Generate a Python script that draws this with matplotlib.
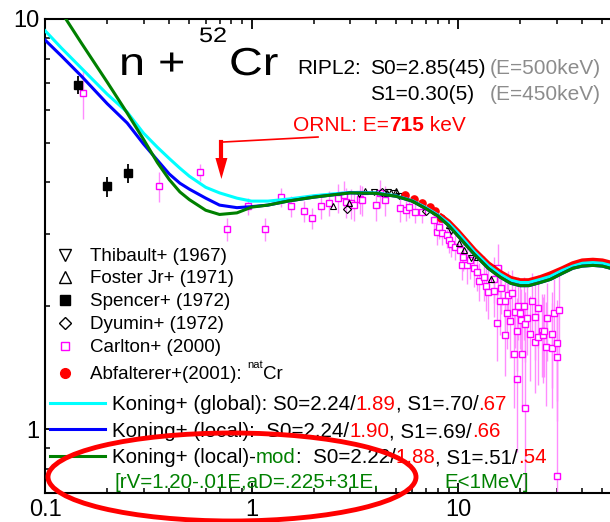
import matplotlib
matplotlib.use("Agg")
import matplotlib.pyplot as plt
from matplotlib.patches import Ellipse, Polygon, PathPatch
from matplotlib.lines import Line2D
from matplotlib.transforms import Affine2D
from matplotlib.textpath import TextPath
from matplotlib.font_manager import FontProperties
from matplotlib.ticker import FixedLocator, FixedFormatter, NullFormatter, LogLocator

plt.rcParams['font.family'] = ['Liberation Sans', 'DejaVu Sans']

# ---------------- data ----------------
# model curves (total cross section, b) vs neutron energy (MeV)
E_CURVE = [0.1, 0.12, 0.15, 0.2, 0.25, 0.3, 0.35, 0.4, 0.45, 0.5, 0.6, 0.7, 0.85,
           1.0, 1.2, 1.5, 2, 2.5, 3, 4, 5, 6, 7, 8, 9, 10, 12, 14, 16, 18, 20,
           22, 25, 28, 32, 36, 40, 45, 50, 60]
SIG_GLOBAL = [9.37, 8.50, 7.59, 6.56, 5.93, 5.27, 4.87, 4.57, 4.33, 4.14, 3.89, 3.77, 3.66,
              3.60, 3.60, 3.64, 3.71, 3.75, 3.78, 3.77, 3.71, 3.61, 3.47, 3.33, 3.18, 3.01, 2.71,
              2.51, 2.39, 2.31, 2.28, 2.28, 2.32, 2.36, 2.44, 2.50, 2.54, 2.55, 2.54, 2.48]
SIG_LOCAL = [8.89, 8.13, 7.26, 6.22, 5.58, 4.96, 4.53, 4.19, 3.98, 3.85, 3.66, 3.52, 3.47,
             3.49, 3.52, 3.60, 3.68, 3.73, 3.77, 3.76, 3.70, 3.60, 3.45, 3.31, 3.14, 2.96, 2.67,
             2.47, 2.35, 2.27, 2.24, 2.24, 2.28, 2.32, 2.40, 2.47, 2.50, 2.51, 2.50, 2.44]
SIG_MOD = [12.0, 10.4, 8.74, 7.02, 5.90, 5.09, 4.47, 4.06, 3.79, 3.63, 3.42, 3.34, 3.37,
           3.48, 3.52, 3.60, 3.68, 3.73, 3.77, 3.76, 3.70, 3.60, 3.45, 3.31, 3.14, 2.96, 2.67,
           2.47, 2.35, 2.27, 2.24, 2.24, 2.28, 2.32, 2.40, 2.47, 2.50, 2.51, 2.50, 2.44]

# experimental data
THIBAULT_E = [3.3, 3.9, 4.6, 4.9, 5.2, 9.3, 11.5]
THIBAULT_S = [3.74, 3.78, 3.78, 3.76, 3.70, 3.05, 2.62]
FOSTER_E = [2.49, 2.95, 3.56, 4.55, 5.0, 8.5, 9.09, 10.06, 10.7, 12.3, 14.5, 14.9]
FOSTER_S = [3.50, 3.56, 3.81, 3.76, 3.80, 3.27, 3.15, 2.84, 2.74, 2.63, 2.33, 2.48]
SPENCER_E = [0.145, 0.199, 0.251]
SPENCER_S = [6.90, 3.91, 4.21]
SPENCER_ERR = [0.35, 0.22, 0.22]
DYUMIN_E = [2.9, 4.3, 7.0]
DYUMIN_S = [3.45, 3.78, 3.40]
CARLTON_E = [0.152, 0.355, 0.56, 0.757, 0.967, 1.156, 1.382, 1.562, 1.786, 1.974,
             2.18, 2.36, 2.61, 2.79, 2.88, 3.02, 3.15, 3.37, 3.41, 3.99, 4.17, 4.41,
             5.21, 5.63, 5.82, 6.16, 6.66, 7.61, 7.87, 8.05, 8.32, 8.80, 9.09, 9.30,
             9.62, 10.17, 10.4, 10.6, 11.0, 11.4, 11.9, 12.3, 12.6, 13.4, 13.7, 14.0,
             14.9, 15.0, 15.5, 15.7, 15.9, 16.1, 16.8, 16.8, 17.2, 17.4, 17.8, 18.2,
             18.6, 18.8, 19.2, 19.2, 19.6, 19.9, 20.1, 20.5, 20.8, 21.0, 21.0, 21.7,
             22.2, 22.7, 23.5, 23.7, 24.3, 24.5, 25.4, 25.9, 26.2, 26.8, 27.1, 28.4,
             28.4, 29.3, 30.0, 30.0, 30.3, 31.0]
CARLTON_S = [6.60, 3.91, 4.24, 3.07, 3.50, 3.07, 3.68, 3.50, 3.40, 3.27,
             3.50, 3.56, 3.66, 3.72, 3.58, 3.56, 3.52, 3.64, 3.62, 3.52, 3.76, 3.62,
             3.46, 3.42, 3.48, 3.38, 3.38, 3.23, 3.02, 3.11, 3.01, 2.97, 2.89, 2.83,
             2.78, 2.73, 2.51, 2.63, 2.51, 2.58, 2.47, 2.42, 2.30, 2.35, 2.24, 2.16,
             2.18, 2.33, 1.82, 2.48, 2.05, 2.21, 2.05, 1.70, 1.92, 2.13, 1.84, 2.15,
             1.53, 1.93, 1.74, 1.33, 2.00, 1.92, 1.85, 1.53, 2.00, 1.81, 1.125, 1.87,
             1.71, 2.05, 1.88, 1.63, 1.68, 1.98, 1.74, 1.70, 1.74, 1.59, 1.87, 1.58,
             1.71, 1.92, 1.62, 1.50, 0.768, 1.95]
CARLTON_ERR = [0.9, 0.32, 0.2, 0.2, 0.17, 0.2, 0.19, 0.2, 0.2, 0.2,
               0.25, 0.25, 0.3, 0.3, 0.3, 0.3, 0.3, 0.3, 0.3, 0.3, 0.3, 0.3,
               0.25, 0.2, 0.2, 0.2, 0.2, 0.2, 0.2, 0.2, 0.2, 0.2, 0.2, 0.2,
               0.2, 0.2, 0.2, 0.2, 0.25, 0.25, 0.25, 0.25, 0.25, 0.3, 0.3, 0.3,
               0.3, 0.3, 0.35, 0.35, 0.35, 0.3, 0.35, 0.35, 0.35, 0.3, 0.35, 0.3,
               0.4, 0.35, 0.35, 0.45, 0.35, 0.35, 0.35, 0.4, 0.35, 0.35, 0.9, 0.35,
               0.4, 0.35, 0.4, 0.4, 0.4, 0.4, 0.4, 0.4, 0.4, 0.45, 0.4, 0.45,
               0.45, 0.4, 0.45, 0.45, 1.2, 0.45]
ABF_E = [5.56, 6.15, 6.72, 7.28, 7.78, 8.3]
ABF_S = [3.72, 3.64, 3.56, 3.48, 3.40, 3.27]
ABF_DENSE_E = [8.3, 9, 10, 12, 14, 16, 18, 20, 22, 25, 28, 32, 36, 40, 45, 50, 60]
ABF_DENSE_S = [3.30, 3.20, 3.03, 2.73, 2.53, 2.41, 2.33, 2.30, 2.30, 2.34, 2.39,
               2.46, 2.53, 2.57, 2.58, 2.57, 2.51]

ORNL_E = 0.715
X_TICKS = [0.1, 1, 10]
X_LABELS = ["0.1", "1", "10"]
Y_TICKS = [1, 10]
Y_LABELS = ["1", "10"]

# ---------------- figure ----------------
W, H = 610, 522
fig = plt.figure(figsize=(W / 100, H / 100), dpi=100)
PX = Affine2D().scale(1, -1).translate(0, H)   # pixel coords, origin top-left

ax = fig.add_axes([45 / W, 1 - 493 / H, 619.5 / W, 474 / H])
ax.set_xscale('log')
ax.set_yscale('log')
ax.set_xlim(0.1, 100)
ax.set_ylim(0.7, 10)
for sp in ax.spines.values():
    sp.set_linewidth(1.5)

ax.xaxis.set_major_locator(FixedLocator(X_TICKS))
ax.xaxis.set_major_formatter(FixedFormatter(X_LABELS))
ax.yaxis.set_major_locator(FixedLocator(Y_TICKS))
ax.yaxis.set_major_formatter(FixedFormatter(Y_LABELS))
ax.xaxis.set_minor_locator(LogLocator(base=10, subs=range(2, 10)))
ax.yaxis.set_minor_locator(LogLocator(base=10, subs=range(2, 10)))
ax.xaxis.set_minor_formatter(NullFormatter())
ax.yaxis.set_minor_formatter(NullFormatter())
ax.tick_params(which='major', direction='in', length=7.5, width=1.3, top=True,
               right=True, labelsize=17, pad=4)
ax.tick_params(which='minor', direction='in', length=3.8, width=1.1, top=True, right=True)

# data points
ax.errorbar(CARLTON_E, CARLTON_S, yerr=CARLTON_ERR, fmt='none', ecolor='#ff8cff',
            elinewidth=1.0, zorder=2)
ax.plot(CARLTON_E, CARLTON_S, 's', ms=4.6, mfc='white', mec='#ff00ff', mew=1.0,
        ls='none', zorder=3)
ax.errorbar(SPENCER_E, SPENCER_S, yerr=SPENCER_ERR, fmt='s', color='black', ms=6,
            elinewidth=1.3, zorder=3)
ax.plot(THIBAULT_E, THIBAULT_S, 'v', ms=5, mfc='none', mec='black', mew=0.8, ls='none', zorder=3)
ax.plot(FOSTER_E, FOSTER_S, '^', ms=5, mfc='none', mec='black', mew=0.8, ls='none', zorder=3)
ax.plot(DYUMIN_E, DYUMIN_S, 'D', ms=4, mfc='none', mec='black', mew=0.8, ls='none', zorder=3)

# model curves
ax.plot(ABF_DENSE_E, ABF_DENSE_S, color='#ff0000', lw=4.0, zorder=4)
ax.plot(ABF_E, ABF_S, 'o', ms=5.2, color='#ff0000', ls='none', zorder=4)
ax.plot(E_CURVE, SIG_GLOBAL, color='#00ffff', lw=2.2, zorder=5)
ax.plot(E_CURVE, SIG_LOCAL, color='#0000ff', lw=2.2, zorder=6)
ax.plot(E_CURVE, SIG_MOD, color='#008000', lw=2.2, zorder=7)

renderer = fig.canvas.get_renderer()


def advance(s, size, weight='normal'):
    t = fig.text(0, 0, s + '|', fontsize=size, fontweight=weight)
    w1 = t.get_window_extent(renderer).width
    t.set_text('|')
    w2 = t.get_window_extent(renderer).width
    t.remove()
    return w1 - w2


def rich(x, y, parts, size):
    for s, color, weight in parts:
        fig.text(x, y, s, transform=PX, fontsize=size, color=color,
                 fontweight=weight, ha='left', va='baseline')
        x += advance(s, size, weight)
    return x


TITLE_FONT = FontProperties(family='Liberation Sans')


def wide_text(x, baseline, s, size_px, stretch):
    path = TextPath((0, 0), s, size=size_px, prop=TITLE_FONT)
    tr = Affine2D().scale(stretch, -1).translate(x, baseline) + PX
    fig.add_artist(PathPatch(path, transform=tr, color='black', lw=0))


K, R, G, GR = 'black', '#ff0000', '#008000', '#8c8c8c'
N = 'normal'

# title
wide_text(119, 75, "n +", 39, 1.2)
wide_text(199, 42, "52", 21, 1.2)
wide_text(229, 75, "Cr", 39, 1.2)

# RIPL-2 resonance parameters
rich(297, 74, [("RIPL2:", K, N)], 15)
rich(370, 74, [("S0=2.85(45)", K, N)], 15)
rich(490, 74, [("(E=500keV)", GR, N)], 15)
rich(370, 100, [("S1=0.30(5)", K, N)], 15)
rich(490, 100, [("(E=450keV)", GR, N)], 15)
rich(293, 131, [("ORNL: E=", R, N), ("715", R, 'bold'), (" keV", R, N)], 15)

# ORNL energy marker
xa = ax.transData.transform((ORNL_E, 1))[0]
fig.add_artist(Line2D([xa + 2, 318], [142, 137], transform=PX, color=R, lw=1.2))
fig.add_artist(Line2D([xa, xa], [142, 161], transform=PX, color=R, lw=3.0))
fig.add_artist(Polygon([[xa - 6, 158], [xa + 6, 158], [xa, 179]], closed=True,
                       transform=PX, color=R, lw=0))

# legend: data sets
LEG_X, TXT_X = 65, 90
leg_items = [
    (255, dict(marker='v', ms=8, mfc='none', mec='black', mew=1.0), "Thibault+ (1967)"),
    (277, dict(marker='^', ms=8, mfc='none', mec='black', mew=1.0), "Foster Jr+ (1971)"),
    (300, dict(marker='s', ms=6.5, mfc='black', mec='black'), "Spencer+ (1972)"),
    (323, dict(marker='D', ms=6, mfc='none', mec='black', mew=1.0), "Dyumin+ (1972)"),
    (346, dict(marker='s', ms=6, mfc='white', mec='#ff00ff', mew=1.0), "Carlton+ (2000)"),
]
for yy, mk, label in leg_items:
    fig.add_artist(Line2D([LEG_X], [yy], transform=PX, ls='none', **mk))
    rich(TXT_X, yy + 6, [(label, K, N)], 13.5)
fig.add_artist(Line2D([LEG_X], [373], transform=PX, ls='none', marker='o', ms=7,
                      mfc=R, mec=R))
x = rich(TXT_X, 379, [("Abfalterer+(2001): ", K, N)], 13.5)
x = rich(x, 368, [("nat", K, N)], 8)
rich(x, 379, [("Cr", K, N)], 13.5)

# legend: model curves
LS = 14.8
for yy, col in [(403, '#00ffff'), (429, '#0000ff'), (456, '#008000')]:
    fig.add_artist(Line2D([50, 105], [yy, yy], transform=PX, color=col, lw=2.2))
rich(112, 410, [("Koning+ (global): S0=2.24/", K, N), ("1.89", R, N),
                (", S1=.70/", K, N), (".67", R, N)], LS)
rich(112, 437, [("Koning+ (local):  S0=2.24/", K, N), ("1.90", R, N),
                (", S1=.69/", K, N), (".66", R, N)], LS)
rich(112, 463, [("Koning+ (local)-", K, N), ("mod", G, N), (":  S0=2.22/", K, N),
                ("1.88", R, N), (", S1=.51/", K, N), (".54", R, N)], LS)
rich(115, 488, [("[rV=1.20-.01E,aD=.225+31E,", G, N)], LS)
rich(444, 488, [("E<1MeV]", G, N)], LS)

# highlight ring
fig.add_artist(Ellipse((232, 477), 368, 88, transform=PX, fill=False, ec=R, lw=3.5,
                       zorder=10, clip_on=False))

fig.savefig("out.png", dpi=100)
